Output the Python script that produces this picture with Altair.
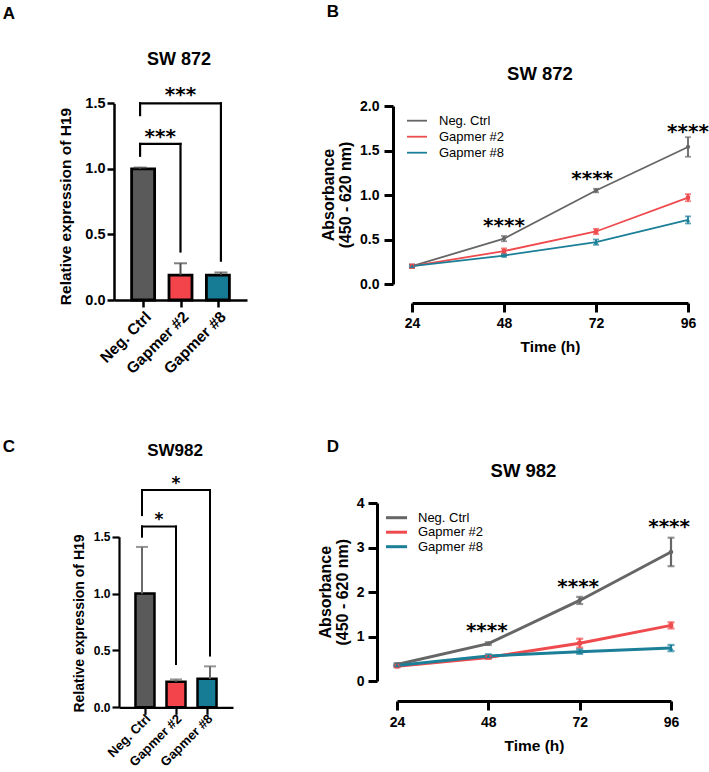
import json

import altair as alt
import pandas as pd

W, H = 709, 772
FONT = "Liberation Sans"
STAR_FONT = "DejaVu Sans"

GROUPS = ["Neg. Ctrl", "Gapmer #2", "Gapmer #8"]
BAR_FILLS = ["#5a5a5a", "#f3444b", "#167b95"]
LINE_COLORS = ["#666666", "#ef4a4d", "#1b7f98"]
MARKERS = ["circle", "square", "triangle-up"]
HOURS = [24, 48, 72, 96]

# ---- A: SW 872, relative H19 expression (mean, SD)
A_MEAN = [1.00, 0.19, 0.19]
A_SD = [0.01, 0.09, 0.02]
A_CMP_FROM = [0, 0]
A_CMP_TO = [1, 2]
A_CMP_TOP = [1.19, 1.50]
A_CMP_LEFT_END = [1.10, 1.41]
A_CMP_RIGHT_END = [0.37, 0.30]
A_CMP_LABEL = ["***", "***"]
A_CMP_LABEL_Y = [1.28, 1.60]

# ---- C: SW982, relative H19 expression (mean, SD)
C_MEAN = [1.00, 0.225, 0.25]
C_SD = [0.41, 0.02, 0.11]
C_CMP_FROM = [0, 0]
C_CMP_TO = [1, 2]
C_CMP_TOP = [1.59, 1.91]
C_CMP_LEFT_END = [1.50, 1.69]
C_CMP_RIGHT_END = [0.38, 0.455]
C_CMP_LABEL = ["*", "*"]
C_CMP_LABEL_Y = [1.68, 2.00]

# ---- B: SW 872 proliferation, absorbance (mean, SD)
B_NEG = [0.20, 0.51, 1.05, 1.54]
B_NEG_SD = [0.02, 0.03, 0.02, 0.11]
B_G2 = [0.20, 0.37, 0.59, 0.97]
B_G2_SD = [0.02, 0.03, 0.03, 0.04]
B_G8 = [0.20, 0.32, 0.47, 0.72]
B_G8_SD = [0.01, 0.015, 0.03, 0.04]
B_STAR_X = [48, 71, 96]
B_STAR_Y = [0.71, 1.24, 1.76]
B_STAR_LABEL = ["****", "****", "****"]

# ---- D: SW 982 proliferation, absorbance (mean, SD)
D_NEG = [0.37, 0.84, 1.81, 2.90]
D_NEG_SD = [0.03, 0.03, 0.08, 0.32]
D_G2 = [0.33, 0.53, 0.85, 1.25]
D_G2_SD = [0.02, 0.03, 0.10, 0.07]
D_G8 = [0.35, 0.56, 0.66, 0.74]
D_G8_SD = [0.02, 0.04, 0.05, 0.07]
D_STAR_X = [47.6, 71.6, 95.5]
D_STAR_Y = [1.24, 2.23, 3.58]
D_STAR_LABEL = ["****", "****", "****"]

# ---- panel letters and titles (page pixels, text baseline)
PAGE_TEXT = ["A", "B", "C", "D", "SW 872", "SW 872", "SW982", "SW 982"]
PAGE_X = [9, 333, 9, 333, 179, 540, 175, 523.5]
PAGE_Y = [18.5, 16.7, 451.7, 451.7, 64.7, 79.8, 456, 476.6]
PAGE_SIZE = [17, 17, 17, 17, 18, 18.5, 17, 18.5]

# ---- panel geometry (pixel placement of each plot's scales, axes and legend)
LAYOUT_A = dict(xdom=[-0.645, 2.645], xrange=[114, 247], ydom=[0, 1.5], yrange=[300, 103.3],
                yaxis_x=114, xaxis_y=300, yticks=[0, 0.5, 1.0, 1.5],
                title_x=70, title_y=206)
LAYOUT_C = dict(xdom=[-0.676, 2.676], xrange=[119, 233], ydom=[0, 1.5], yrange=[707.3, 536.7],
                yaxis_x=119, xaxis_y=707.3, yticks=[0, 0.5, 1.0, 1.5],
                title_x=83.5, title_y=623)
LAYOUT_B = dict(xdom=[24, 96], xrange=[412, 688], ydom=[0, 2], yrange=[284, 106],
                yaxis_x=393, xaxis_y=303, yticks=[0, 0.5, 1.0, 1.5, 2.0], yfmt=".1f",
                title_x=333, title_y=194.5, xtitle_x=550, xtitle_dy=48.7,
                leg_x=410.5, leg_y=114.2)
LAYOUT_D = dict(xdom=[24, 96], xrange=[397, 671], ydom=[0, 4], yrange=[681, 503],
                yaxis_x=377, xaxis_y=701, yticks=[0, 1, 2, 3, 4], yfmt="d",
                title_x=330, title_y=591.7, xtitle_x=534, xtitle_dy=49,
                leg_x=389.5, leg_y=510.7)

STYLE_A = dict(bar=23, barstroke=2.8, cap=13, errc="#4a4a4a", axw=2.5, tick=7, ylab=14.5,
               xlab=15.5, ytitle=15.5, star=20, star_dy=11, br=2.2, ylabpad=2, xlabpad=2,
               xbase="top", xoff=0)
STYLE_C = dict(bar=19, barstroke=2.5, cap=12, errc="#6a6a6a", axw=2.2, tick=7, ylab=12,
               xlab=13, ytitle=14, star=17, star_dy=9, br=2.0, ylabpad=2, xlabpad=2,
               xbase="middle", xoff=3)
STYLE_B = dict(lw=1.8, ew=1.8, capw=6, pt=18, axw=3, tick=9, lab=14, title=16, xtitle=15.5,
               star=20, star_dy=11, sym=100, legfont=13, legoff=15.5, legpad=2, ylabpad=5,
               xlabpad=4)
STYLE_D = dict(lw=3, ew=2.2, capw=7, pt=20, axw=3, tick=9, lab=14, title=16, xtitle=15.5,
               star=20, star_dy=11, sym=110, legfont=13, legoff=14.5, legpad=0.5, ylabpad=4,
               xlabpad=5)

# horizontal legend stroke, twice the unit symbol width
LEGEND_STROKE = "M-2,0H2"


def axis_common(width):
    return dict(domainColor="black", domainWidth=width, tickColor="black", tickWidth=width,
                labelColor="black", labelFont=FONT, labelFontWeight="bold",
                labelFlush=False, labelOverlap=False, grid=False,
                titleFont=FONT, titleFontWeight="bold", titleColor="black")


def bar_panel(means, sds, cmp_from, cmp_to, cmp_top, cmp_left, cmp_right, cmp_label, cmp_label_y,
              lay, st):
    df = pd.DataFrame({
        "group": GROUPS,
        "pos": [0, 1, 2],
        "mean": means,
        "top": [m + s for m, s in zip(means, sds)],
        "zero": [0.0, 0.0, 0.0],
    })
    cmp = pd.DataFrame({
        "from": cmp_from, "to": cmp_to, "top": cmp_top,
        "left_end": cmp_left, "right_end": cmp_right,
        "label": cmp_label, "label_y": cmp_label_y,
        "mid": [(a + b) / 2 for a, b in zip(cmp_from, cmp_to)],
    })
    xsc = alt.Scale(domain=lay["xdom"], range=lay["xrange"], nice=False, zero=False)
    ysc = alt.Scale(domain=lay["ydom"], range=lay["yrange"], nice=False, zero=False)

    x_axis = alt.Axis(
        orient="bottom", offset=lay["xaxis_y"] - H, values=[0, 1, 2],
        labelExpr=f"{json.dumps(GROUPS)}[datum.value]",
        labelAngle=-45, labelAlign="right", labelBaseline=st["xbase"], labelOffset=st["xoff"],
        labelFontSize=st["xlab"], labelPadding=st["xlabpad"], tickSize=st["tick"],
        title=None, **axis_common(st["axw"]))
    y_axis = alt.Axis(
        orient="left", offset=-lay["yaxis_x"], values=lay["yticks"], format=".1f",
        labelFontSize=st["ylab"], labelPadding=st["ylabpad"], tickSize=st["tick"],
        title="Relative expression of H19", titleX=lay["title_x"] - lay["yaxis_x"],
        titleY=lay["title_y"], titleAngle=270, titleAlign="center",
        titleBaseline="alphabetic", titleFontSize=st["ytitle"], **axis_common(st["axw"]))

    X = lambda f: alt.X(f, scale=xsc, axis=None)
    Y = lambda f: alt.Y(f, scale=ysc, axis=None)

    base = alt.Chart(df)
    err = base.mark_rule(color=st["errc"], strokeWidth=2).encode(
        x=X("pos:Q"), y=Y("mean:Q"), y2="top:Q")
    cap = base.mark_tick(orient="horizontal", color=st["errc"], size=st["cap"],
                         thickness=2).encode(x=X("pos:Q"), y=Y("top:Q"))
    bars = base.mark_bar(size=st["bar"], stroke="black", strokeWidth=st["barstroke"],
                         orient="vertical").encode(
        x=alt.X("pos:Q", scale=xsc, axis=x_axis),
        y=alt.Y("mean:Q", scale=ysc, axis=y_axis),
        y2="zero:Q",
        fill=alt.Fill("group:N", scale=alt.Scale(domain=GROUPS, range=BAR_FILLS), legend=None),
    )

    cbase = alt.Chart(cmp)
    rule_kw = dict(color="black", strokeWidth=st["br"], strokeCap="square")
    hline = cbase.mark_rule(**rule_kw).encode(x=X("from:Q"), x2="to:Q", y=Y("top:Q"))
    lleg = cbase.mark_rule(**rule_kw).encode(x=X("from:Q"), y=Y("top:Q"), y2="left_end:Q")
    rleg = cbase.mark_rule(**rule_kw).encode(x=X("to:Q"), y=Y("top:Q"), y2="right_end:Q")
    stars = cbase.mark_text(font=STAR_FONT, fontWeight="bold", fontSize=st["star"],
                            baseline="alphabetic", dy=st["star_dy"], color="black").encode(
        x=X("mid:Q"), y=Y("label_y:Q"), text="label:N")

    return [bars, err, cap, hline, lleg, rleg, stars]


def line_panel(means, sds, star_x, star_y, star_label, lay, st):
    rows = []
    for g, m_list, s_list in zip(GROUPS, means, sds):
        for h, m, s in zip(HOURS, m_list, s_list):
            rows.append({"series": g, "grp": g, "hour": h, "mean": m, "lo": m - s, "hi": m + s})
    df = pd.DataFrame(rows)
    stars_df = pd.DataFrame({"hour": star_x, "y": star_y, "label": star_label})

    xsc = alt.Scale(domain=lay["xdom"], range=lay["xrange"], nice=False, zero=False)
    ysc = alt.Scale(domain=lay["ydom"], range=lay["yrange"], nice=False, zero=False)
    csc = alt.Scale(domain=GROUPS, range=LINE_COLORS)

    x_axis = alt.Axis(
        orient="bottom", offset=lay["xaxis_y"] - H, values=HOURS, format="d",
        labelFontSize=st["lab"], labelPadding=st["xlabpad"], tickSize=st["tick"],
        title="Time (h)", titleX=lay["xtitle_x"], titleY=lay["xtitle_dy"],
        titleAlign="center", titleBaseline="alphabetic", titleFontSize=st["xtitle"],
        **axis_common(st["axw"]))
    y_axis = alt.Axis(
        orient="left", offset=-lay["yaxis_x"], values=lay["yticks"], format=lay["yfmt"],
        labelFontSize=st["lab"], labelPadding=st["ylabpad"], tickSize=st["tick"],
        title=["Absorbance", "(450 - 620 nm)"], titleX=lay["title_x"] - lay["yaxis_x"],
        titleY=lay["title_y"], titleAngle=270, titleAlign="center",
        titleBaseline="alphabetic", titleFontSize=st["title"], titleLineHeight=17,
        **axis_common(st["axw"]))
    legend = alt.Legend(
        orient="none", legendX=lay["leg_x"], legendY=lay["leg_y"], title=None,
        symbolType=LEGEND_STROKE, symbolSize=st["sym"], symbolStrokeWidth=st["lw"],
        labelFont=FONT, labelFontSize=st["legfont"], labelColor="black",
        labelOffset=st["legoff"], rowPadding=st["legpad"], padding=0)

    X = alt.X("hour:Q", scale=xsc, axis=None)
    base = alt.Chart(df)
    line = base.mark_line(strokeWidth=st["lw"]).encode(
        x=alt.X("hour:Q", scale=xsc, axis=x_axis),
        y=alt.Y("mean:Q", scale=ysc, axis=y_axis),
        color=alt.Color("series:N", scale=csc, legend=legend),
    )
    err = base.mark_rule(strokeWidth=st["ew"]).encode(
        x=X, y=alt.Y("lo:Q", scale=ysc, axis=None), y2="hi:Q",
        stroke=alt.Stroke("grp:N", scale=csc, legend=None))
    caps = base.transform_fold(["lo", "hi"], as_=["end", "yv"]).mark_tick(
        orient="horizontal", size=st["capw"], thickness=st["ew"]).encode(
        x=X, y=alt.Y("yv:Q", scale=ysc, axis=None),
        fill=alt.Fill("grp:N", scale=csc, legend=None))
    pts = base.mark_point(filled=True, size=st["pt"], opacity=1).encode(
        x=X, y=alt.Y("mean:Q", scale=ysc, axis=None),
        fill=alt.Fill("grp:N", scale=csc, legend=None),
        shape=alt.Shape("grp:N", scale=alt.Scale(domain=GROUPS, range=MARKERS), legend=None))
    stars = alt.Chart(stars_df).mark_text(
        font=STAR_FONT, fontWeight="bold", fontSize=st["star"], baseline="alphabetic",
        dy=st["star_dy"], color="black").encode(
        x=X, y=alt.Y("y:Q", scale=ysc, axis=None), text="label:N")
    return [line, err, caps, pts, stars]


layers = []
layers += bar_panel(A_MEAN, A_SD, A_CMP_FROM, A_CMP_TO, A_CMP_TOP, A_CMP_LEFT_END,
                    A_CMP_RIGHT_END, A_CMP_LABEL, A_CMP_LABEL_Y, LAYOUT_A, STYLE_A)
layers += line_panel([B_NEG, B_G2, B_G8], [B_NEG_SD, B_G2_SD, B_G8_SD],
                     B_STAR_X, B_STAR_Y, B_STAR_LABEL, LAYOUT_B, STYLE_B)
layers += bar_panel(C_MEAN, C_SD, C_CMP_FROM, C_CMP_TO, C_CMP_TOP, C_CMP_LEFT_END,
                    C_CMP_RIGHT_END, C_CMP_LABEL, C_CMP_LABEL_Y, LAYOUT_C, STYLE_C)
layers += line_panel([D_NEG, D_G2, D_G8], [D_NEG_SD, D_G2_SD, D_G8_SD],
                     D_STAR_X, D_STAR_Y, D_STAR_LABEL, LAYOUT_D, STYLE_D)

page_df = pd.DataFrame({"text": PAGE_TEXT, "px": PAGE_X, "py": PAGE_Y, "size": PAGE_SIZE})
layers.append(alt.Chart(page_df).mark_text(font=FONT, fontWeight="bold", baseline="alphabetic",
                                           align="center", color="black").encode(
    x=alt.X("px:Q", scale=alt.Scale(domain=[0, W], range=[0, W], nice=False), axis=None),
    y=alt.Y("py:Q", scale=alt.Scale(domain=[0, H], range=[0, H], nice=False), axis=None),
    text="text:N",
    size=alt.Size("size:Q", scale=None, legend=None),
))

chart = (
    alt.layer(*layers)
    .resolve_scale(x="independent", y="independent", color="independent",
                   fill="independent", stroke="independent", shape="independent")
    .properties(width=W, height=H, autosize=alt.AutoSizeParams(type="none"), padding=0,
                background="white")
    .configure_view(stroke="transparent", strokeWidth=0)
)

chart.save("out.html", embed_options={"renderer": "svg", "actions": False})
